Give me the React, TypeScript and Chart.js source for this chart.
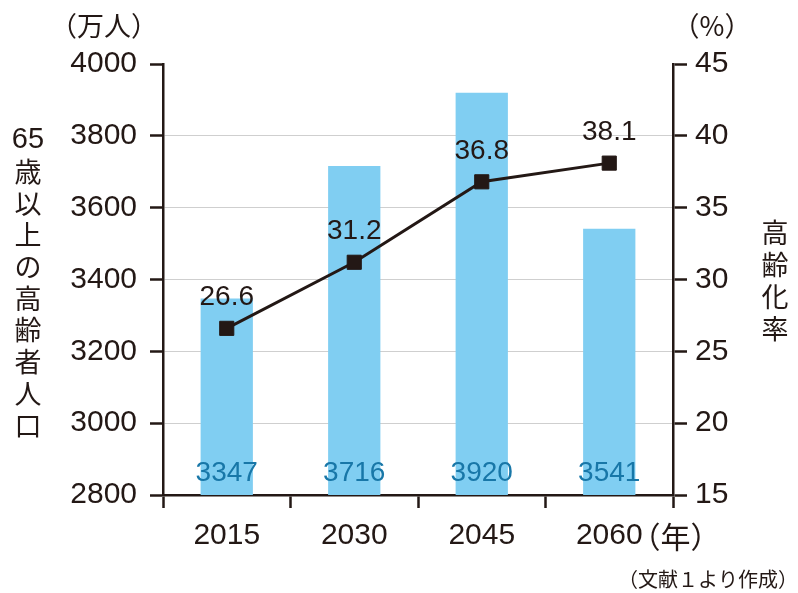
import React, { useEffect, useRef } from "react";
import { Chart, registerables } from "chart.js";

Chart.register(...registerables);

const categories = ["2015", "2030", "2045", "2060"];
const elderlyPopulation = [3347, 3716, 3920, 3541];
const agingRate = [26.6, 31.2, 36.8, 38.1];
const leftAxisRange = [2800, 4000];
const leftAxisStep = 200;
const rightAxisRange = [15, 45];
const rightAxisStep = 5;
const leftUnit = "（万人）";
const rightUnit = "（%）";
const xUnit = "（年）";
const leftTitle = ["65", "歳", "以", "上", "の", "高", "齢", "者", "人", "口"];
const rightTitle = ["高", "齢", "化", "率"];
const sourceNote = "（文献１より作成）";

const INK = "#231815";
const BAR = "#80cef2";
const BAR_LABEL = "#1877a8";
const FONT = "'Liberation Sans', 'Noto Sans CJK JP', Arial, sans-serif";
const CJK = "'Noto Sans CJK JP', 'Liberation Sans', sans-serif";

const textPlugin = {
  id: "textPlugin",
  afterDraw(chart: any) {
    const ctx = chart.ctx;
    const area = chart.chartArea;
    const xs = chart.scales.x;
    const y1 = chart.scales.y1;
    ctx.save();
    // bar value labels
    ctx.font = `28px ${FONT}`;
    ctx.fillStyle = BAR_LABEL;
    ctx.textAlign = "center";
    ctx.textBaseline = "middle";
    elderlyPopulation.forEach((v, i) => {
      ctx.fillText(String(v), xs.getPixelForValue(i), area.bottom - 22);
    });
    // line value labels
    ctx.fillStyle = INK;
    agingRate.forEach((v, i) => {
      ctx.fillText(v.toFixed(1), xs.getPixelForValue(i), y1.getPixelForValue(v) - 31);
    });
    // unit titles
    ctx.font = `27px ${CJK}`;
    ctx.textAlign = "center";
    ctx.fillText(leftUnit, 104, 26);
    ctx.fillText(rightUnit, 712, 26);
    // x unit after last label
    ctx.font = `30px ${FONT}`;
    const lastLabelW = ctx.measureText(categories[categories.length - 1]).width;
    const lx = xs.getPixelForValue(categories.length - 1) + lastLabelW / 2;
    ctx.font = `30px ${CJK}`;
    ctx.textAlign = "left";
    ctx.fillText(xUnit, lx - 12, 537);
    // vertical titles
    ctx.textAlign = "center";
    leftTitle.forEach((ch, i) => {
      ctx.font = ch === "65" ? `29px ${FONT}` : `27px ${CJK}`;
      ctx.fillText(ch, 28, 140 + i * 31.7);
    });
    ctx.font = `27px ${CJK}`;
    rightTitle.forEach((ch, i) => {
      ctx.fillText(ch, 775, 233 + i * 31.8);
    });
    // source
    ctx.font = `20px ${CJK}`;
    ctx.textAlign = "right";
    ctx.fillText(sourceNote, 798, 579);
    ctx.restore();
  },
};

export default function App() {
  const ref = useRef<HTMLCanvasElement | null>(null);
  useEffect(() => {
    if (!ref.current) return;
    const chart = new Chart(ref.current, {
      type: "bar",
      data: {
        labels: categories,
        datasets: [
          {
            type: "line",
            data: agingRate,
            yAxisID: "y1",
            borderColor: INK,
            borderWidth: 3,
            pointStyle: "rect",
            pointRadius: 10,
            pointBackgroundColor: INK,
            pointBorderColor: INK,
            pointBorderWidth: 1,
            order: 0,
          } as any,
          {
            type: "bar",
            data: elderlyPopulation,
            yAxisID: "y",
            backgroundColor: BAR,
            barPercentage: 0.41,
            categoryPercentage: 1,
            order: 1,
          },
        ],
      },
      options: {
        responsive: false,
        animation: false,
        layout: { padding: { top: 64, left: 0, right: 0, bottom: 0 } },
        plugins: { legend: { display: false }, tooltip: { enabled: false } },
        scales: {
          x: {
            position: "bottom",
            afterFit: (s: any) => {
              s.height = 98;
            },
            grid: {
              offset: true,
              drawOnChartArea: false,
              tickLength: 13,
              tickColor: INK,
              tickWidth: 2.5,
            },
            border: { color: INK, width: 2.5 },
            ticks: { color: INK, font: { size: 30, family: FONT }, padding: 10, maxRotation: 0 },
          },
          y: {
            position: "left",
            min: leftAxisRange[0],
            max: leftAxisRange[1],
            afterFit: (s: any) => {
              s.width = 163;
            },
            grid: {
              color: (c: any) =>
                c.tick && c.tick.value === leftAxisRange[1] ? "rgba(0,0,0,0)" : "#cfcfcf",
              lineWidth: 1,
              tickLength: 13,
              tickColor: INK,
              tickWidth: 2.5,
            },
            border: { color: INK, width: 2.5 },
            ticks: {
              stepSize: leftAxisStep,
              color: INK,
              font: { size: 30, family: FONT },
              padding: 13,
              callback: (v: any) => String(v),
            },
          },
          y1: {
            position: "right",
            min: rightAxisRange[0],
            max: rightAxisRange[1],
            afterFit: (s: any) => {
              s.width = 125;
            },
            grid: {
              drawOnChartArea: false,
              tickLength: 14,
              tickColor: INK,
              tickWidth: 2.5,
            },
            border: { color: INK, width: 2.5 },
            ticks: {
              stepSize: rightAxisStep,
              color: INK,
              font: { size: 30, family: FONT },
              padding: 8,
              callback: (v: any) => String(v),
            },
          },
        },
      },
      plugins: [textPlugin],
    });
    return () => chart.destroy();
  }, []);
  return (
    <canvas
      ref={ref}
      width={798}
      height={593}
      style={{ position: "absolute", left: 0, top: 0, display: "block" }}
    />
  );
}
